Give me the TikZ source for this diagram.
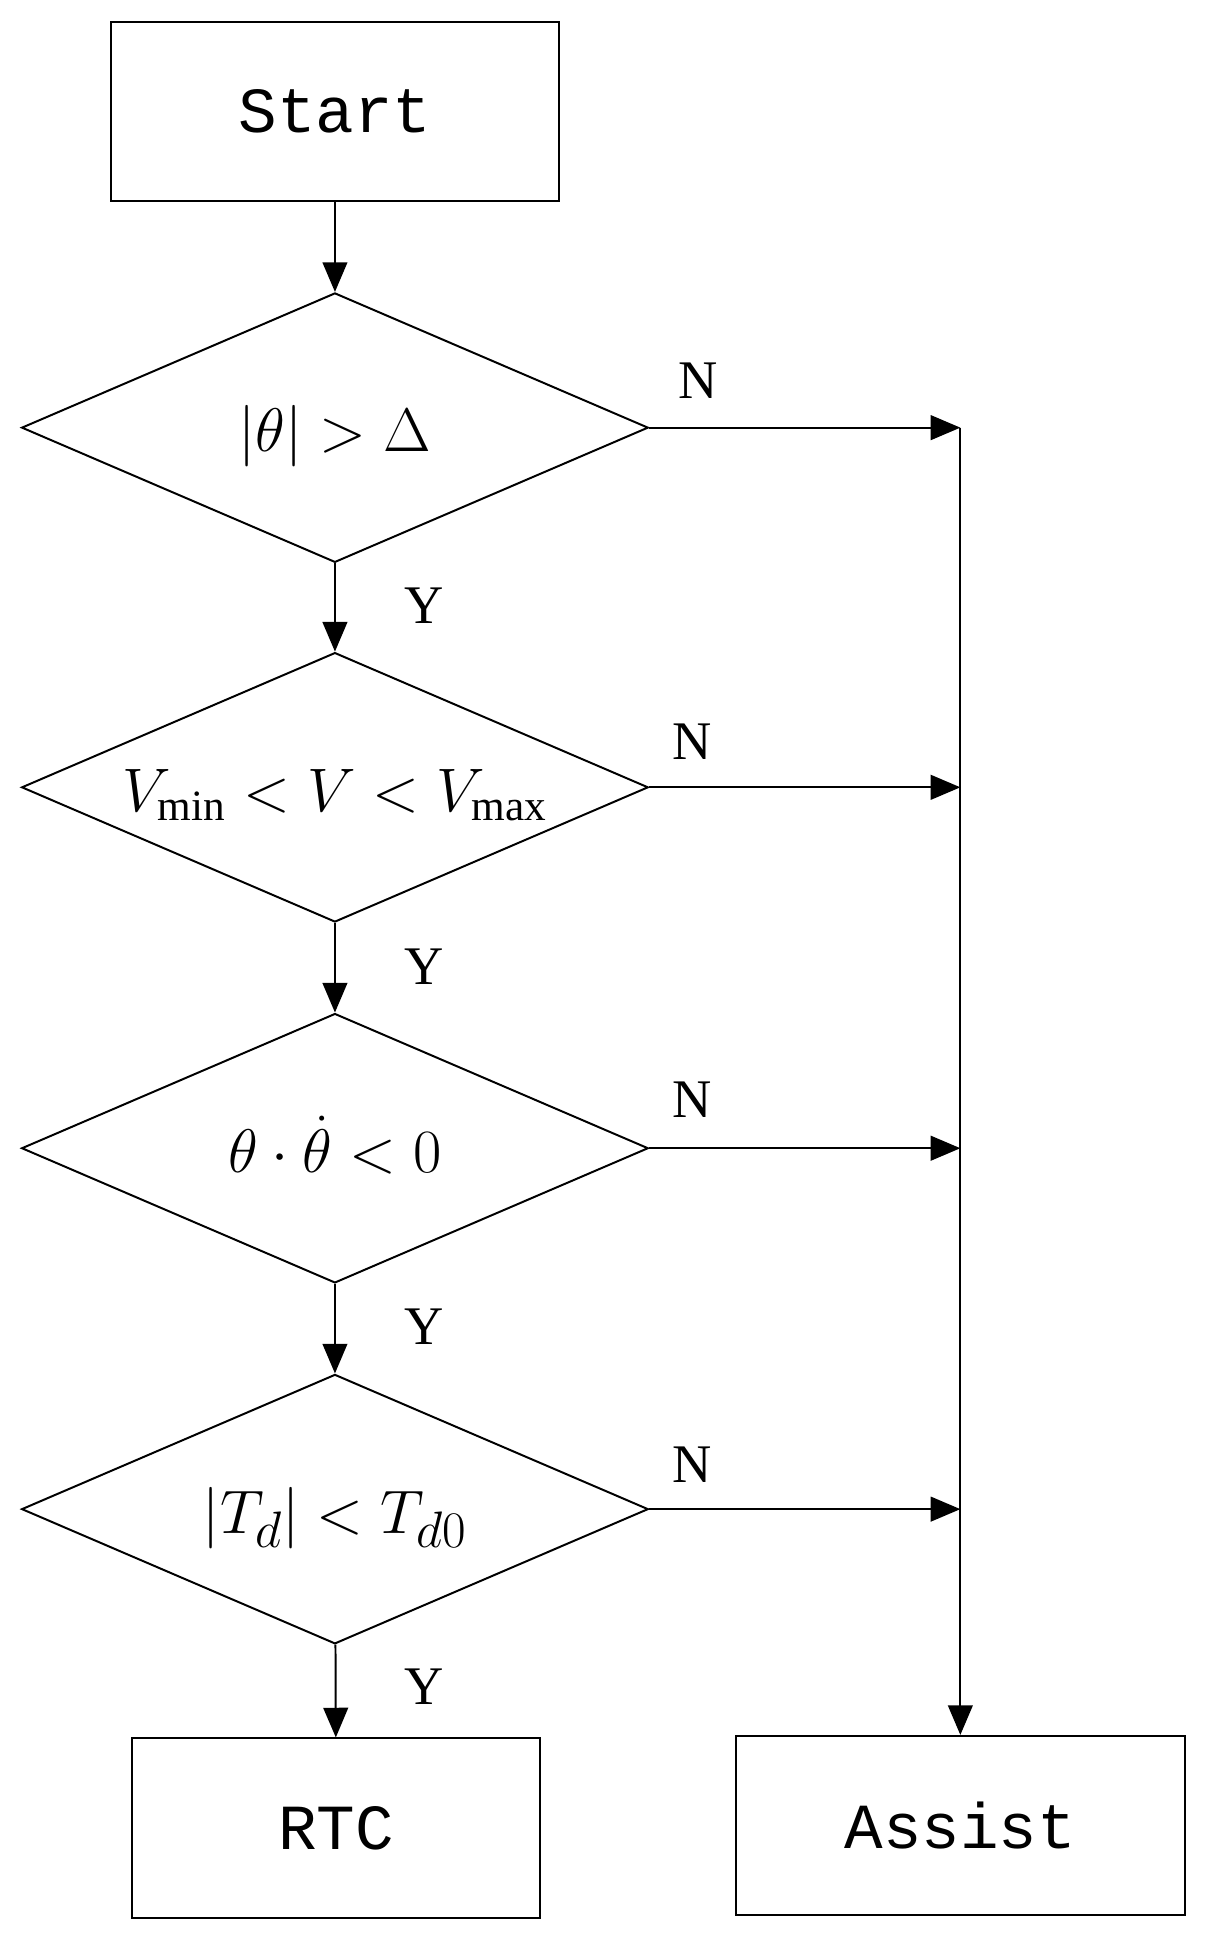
\documentclass[tikz,border=0pt]{standalone}
\usepackage{fontspec}
\setmainfont{Liberation Serif}
\newfontfamily\boxfont{Liberation Mono}
\usetikzlibrary{shapes.geometric,arrows.meta}
\tikzset{
  proc/.style={draw, line width=0.8pt, minimum width=181.5pt, minimum height=72.5pt, inner sep=0pt, font=\boxfont\fontsize{26}{30}\selectfont},
  decide/.style={draw, diamond, line width=0.8pt, minimum width=253.5pt, minimum height=109pt, inner sep=0pt, font=\fontsize{28}{34}\selectfont},
  flow/.style={line width=0.8pt, -{Triangle[length=12pt, width=10pt]}},
  yn/.style={font=\fontsize{22}{26}\selectfont}
}
\newcommand{\cond}[1]{\makebox[0pt]{\smash{\raisebox{-0.35em}{#1}}}}
\begin{document}
\begin{tikzpicture}[x=0.5pt, y=-0.5pt]
\useasboundingbox (0,0) rectangle (975,1568);
\node[proc] (start) at (271,90) {Start};
\node[decide] (d1) at (271,346) {\cond{$\left|\theta\right| > \Delta$}};
\node[decide] (d2) at (271,637) {\cond{\fontsize{25}{30}\selectfont$V_{\mathrm{min}} < V < V_{\mathrm{max}}$}};
\node[decide] (d3) at (271,929) {\cond{$\theta\cdot\dot{\theta} < 0$}};
\node[decide] (d4) at (271,1221) {\cond{$\left|T_d\right| < T_{d0}$}};
\node[proc, minimum width=165pt] (rtc) at (272,1479) {RTC};
\node[proc] (assist) at (777,1477) {Assist};
\coordinate (j1) at (777,346);
\coordinate (j2) at (777,637);
\coordinate (j3) at (777,929);
\coordinate (j4) at (777,1221);
% main path
\draw[flow] (start) -- (d1);
\draw[flow] (d1) -- (d2);
\draw[flow] (d2) -- (d3);
\draw[flow] (d3) -- (d4);
\draw[flow] (d4) -- (rtc);
% no branches
\foreach \i in {1,2,3,4}
  \draw[flow] (d\i.east) -- (j\i);
\draw[flow] (j1) -- (assist.north);
% labels
\node[yn] (n1) at (565,308) {N};
\node[yn] (n2) at (560,600) {N};
\node[yn] (n3) at (560,890) {N};
\node[yn] (n4) at (560,1185) {N};
\node[yn] (y1) at (343,490) {Y};
\node[yn] (y2) at (343,782) {Y};
\node[yn] (y3) at (343,1073) {Y};
\node[yn] (y4) at (343,1365) {Y};
\end{tikzpicture}
\end{document}
